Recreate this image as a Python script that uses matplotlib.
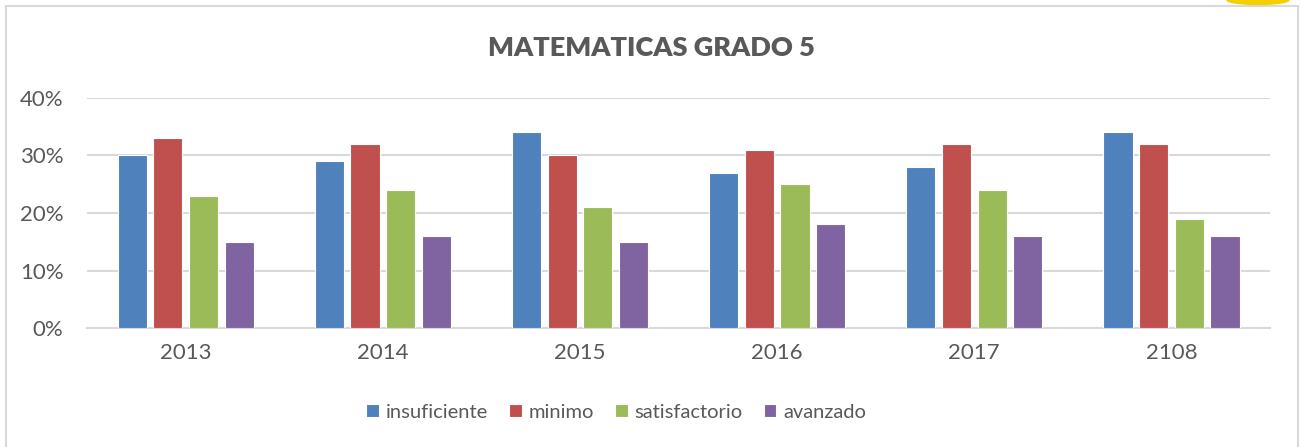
import numpy as np
import matplotlib.pyplot as plt
from matplotlib.patches import Rectangle, Ellipse

# Datos
years = ['2013', '2014', '2015', '2016', '2017', '2108']
insuficiente = [0.30, 0.29, 0.34, 0.27, 0.28, 0.34]
minimo = [0.33, 0.32, 0.30, 0.31, 0.32, 0.32]
satisfactorio = [0.23, 0.24, 0.21, 0.25, 0.24, 0.19]
avanzado = [0.15, 0.16, 0.15, 0.18, 0.16, 0.16]

series = [('insuficiente', insuficiente, '#4F81BD'),
          ('minimo', minimo, '#C0504D'),
          ('satisfactorio', satisfactorio, '#9BBB59'),
          ('avanzado', avanzado, '#8064A2')]

plt.rcParams['font.family'] = ['Lato', 'DejaVu Sans']
text_color = '#595959'
grid_color = '#D9D9D9'

fig = plt.figure(figsize=(13.03, 4.47), dpi=100)
ax = fig.add_axes([0.0668, 0.2662, 0.9079, 0.5146])

x = np.arange(len(years))
step = 0.181
width = 0.148
for i, (name, vals, color) in enumerate(series):
    ax.bar(x + (i - 1.5) * step, vals, width, color=color, label=name,
           edgecolor='white', linewidth=0.8, zorder=3)

ax.set_xlim(-0.5, len(years) - 0.5)
ax.set_ylim(0, 0.40)
ax.set_yticks([0, 0.1, 0.2, 0.3, 0.4])
ax.set_yticklabels(['0%', '10%', '20%', '30%', '40%'])
ax.set_xticks(x)
ax.set_xticklabels(years)
ax.tick_params(length=0, labelsize=16, colors=text_color)
ax.tick_params(axis='x', pad=11)
ax.tick_params(axis='y', pad=17)
ax.yaxis.grid(True, color=grid_color, linewidth=1.5, zorder=0)
for side in ['top', 'right', 'left']:
    ax.spines[side].set_visible(False)
ax.spines['bottom'].set_color(grid_color)
ax.spines['bottom'].set_linewidth(1.5)

fig.text(0.5, 0.893, 'MATEMATICAS GRADO 5', ha='center', va='center',
         fontsize=19.5, fontweight='heavy', color=text_color)

leg = fig.legend(loc='center', bbox_to_anchor=(0.473, 0.078), ncol=4, frameon=False,
                 fontsize=14.5, handlelength=0.62, handleheight=0.62,
                 handletextpad=0.35, columnspacing=1.05)
for t in leg.get_texts():
    t.set_color(text_color)

# marco del grafico
fig.patches.append(Rectangle((6 / 1303, -0.01), 1292 / 1303, 1 - 6 / 447 + 0.01,
                             transform=fig.transFigure, fill=False,
                             edgecolor=grid_color, linewidth=1.5))
fig.patches.append(Ellipse((1258 / 1303, 1.0), 62 / 1303, 9 / 447,
                           transform=fig.transFigure, color='#F5D000'))

fig.savefig('out.png', dpi=100)
